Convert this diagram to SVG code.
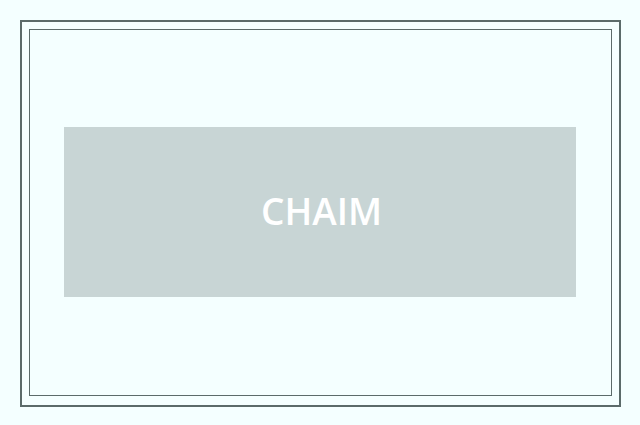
<svg xmlns="http://www.w3.org/2000/svg" width="640" height="425" viewBox="0 0 640 425">
<style>
.frame{fill:none;stroke:#5b6b6a}
.label{font-family:"Open Sans","Noto Sans",sans-serif;font-weight:600;fill:#ffffff;text-anchor:middle}
</style>
<rect x="0" y="0" width="640" height="425" fill="#f4ffff"/>
<g id="frame">
<rect class="frame" x="21" y="21" width="599" height="385" stroke-width="2"/>
<rect class="frame" x="29.5" y="29.5" width="582" height="366" stroke-width="1"/>
</g>
<g id="node-chaim">
<rect x="64" y="127" width="512" height="170" fill="#c8d5d5"/>
<text class="label" x="321.5" y="225" font-size="37">CHAIM</text>
</g>
<g id="connectors"/>
</svg>
